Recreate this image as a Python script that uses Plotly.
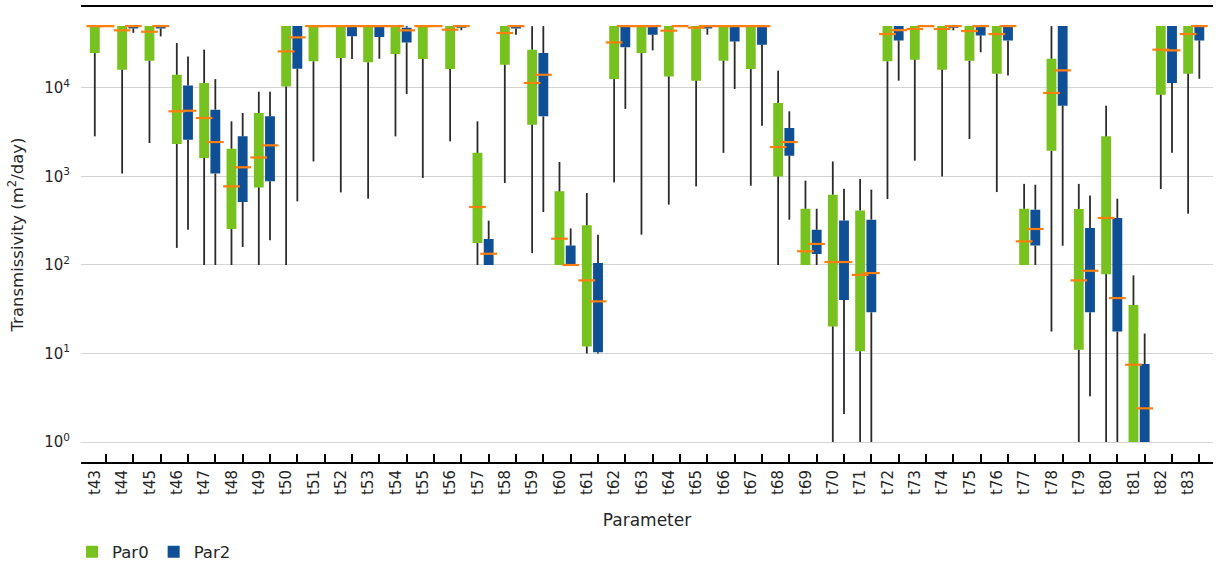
import plotly.graph_objects as go

# Parameter names along the x axis
params = [f"t{n}" for n in range(43, 84)]

# Par0 box statistics (m2/day)
par0_low = [2840, 1080, 2390, 156, 100, 100, 100, 100, 1480, 661, 561, 2840, 962, 2500, 100, 843, 136, 100, 10, 858,
            220, 481, 773, 1850, 787, 100, 100, 1, 1, 556, 1510, 1000, 2650, 667, 100, 17.7, 1, 1, 1, 722, 380]
par0_q1 = [24800, 16100, 20300, 2330, 1620, 255, 753, 10400, 20000, 21800, 19500, 24200, 21300, 16400, 177, 18300,
           3850, 100, 12, 12600, 24800, 13500, 12100, 20300, 16400, 1000, 100, 20.2, 10.6, 20000, 20900, 16100, 20300,
           14500, 100, 1950, 11, 78.8, 1, 8400, 14500]
par0_med = [50000, 44800, 43200, 5450, 4580, 773, 1640, 25900, 50000, 50000, 50000, 50000, 50000, 45600, 452, 41800,
            11400, 198, 67, 32700, 50000, 44400, 48000, 50000, 50000, 2150, 143, 108, 77.3, 40700, 46400, 46400, 44000,
            40700, 185, 8790, 67, 340, 7.47, 27100, 40700]
par0_q3 = [50000, 50000, 50000, 14100, 11400, 2060, 5220, 50000, 50000, 50000, 50000, 50000, 50000, 50000, 1850, 50000,
           27100, 679, 281, 50000, 50000, 50000, 50000, 50000, 50000, 6780, 432, 622, 414, 50000, 50000, 50000, 50000,
           50000, 432, 21400, 430, 2840, 35.2, 50000, 50000]
par0_high = [50000, 50000, 50000, 32200, 27100, 4200, 9080, 50000, 50000, 50000, 50000, 50000, 50000, 50000, 4200, 50000,
             50000, 1460, 650, 50000, 50000, 50000, 50000, 50000, 50000, 15700, 897, 1480, 937, 50000, 50000, 50000, 50000,
             50000, 825, 50000, 825, 6310, 76.2, 50000, 50000]

# Par2 box statistics (m2/day)
par2_low = [50000, 42000, 38300, 250, 100, 160, 190, 524, 50000, 21300, 21400, 8550, 50000, 45000, 100, 40000, 397,
            100, 10, 5800, 26600, 50000, 40000, 9750, 3750, 325, 100, 2.07, 1, 12100, 50000, 44800, 25300, 13800, 100,
            165, 3.29, 1, 1, 1850, 12700]
par2_q1 = [50000, 47000, 47000, 2600, 1080, 515, 881, 16500, 50000, 38300, 37700, 32700, 50000, 48000, 100, 47000,
           4780, 100, 10.3, 28800, 40000, 50000, 47000, 33600, 30800, 1720, 133, 40.3, 29.2, 34500, 50000, 48000, 39300,
           34500, 166, 6310, 29.2, 17.7, 1, 11400, 34500]
par2_med = [50000, 50000, 50000, 5530, 2450, 1270, 2250, 37300, 50000, 50000, 50000, 44800, 50000, 50000, 134, 50000,
            14100, 100, 38.8, 50000, 50000, 50000, 50000, 50000, 50000, 2450, 173, 108, 81, 45000, 50000, 50000, 50000,
            50000, 255, 15800, 86, 42.3, 2.4, 26600, 50000]
par2_q3 = [50000, 50000, 50000, 10700, 5690, 2840, 4780, 50000, 50000, 50000, 50000, 48000, 50000, 50000, 197, 50000,
           24800, 166, 105, 50000, 50000, 50000, 50000, 50000, 50000, 3530, 250, 319, 325, 50000, 50000, 50000, 50000,
           50000, 422, 50000, 262, 340, 7.6, 50000, 50000]
par2_high = [50000, 50000, 50000, 22700, 12600, 5220, 9080, 50000, 50000, 50000, 50000, 50000, 50000, 50000, 317, 50000,
             50000, 259, 220, 50000, 50000, 50000, 50000, 50000, 50000, 5450, 432, 727, 710, 50000, 50000, 50000, 50000,
             50000, 807, 50000, 611, 561, 16.8, 50000, 50000]

GREEN = "#77c21f"
BLUE = "#0e4f95"
ORANGE = "#ff7f0e"
WHISKER = "#2a2a2a"
FONT = "DejaVu Sans"
TEXT = "#262626"

idx = list(range(len(params)))
offsets = {"Par0": -0.41, "Par2": 0.0}
box_w = 0.36

series = [
    ("Par0", GREEN, par0_low, par0_q1, par0_med, par0_q3, par0_high),
    ("Par2", BLUE, par2_low, par2_q1, par2_med, par2_q3, par2_high),
]

fig = go.Figure()

for name, color, low, q1, med, q3, high in series:
    pos = [i + offsets[name] for i in idx]
    # filled inter-quartile boxes
    fig.add_trace(go.Box(
        name=name, x=pos, q1=q1, median=med, q3=q3,
        lowerfence=q1, upperfence=q3, width=box_w,
        fillcolor=color, line=dict(color=color, width=0),
        boxpoints=False, hoverinfo="skip", showlegend=True,
    ))

for name, color, low, q1, med, q3, high in series:
    pos = [i + offsets[name] for i in idx]
    # whiskers: lower fence to Q1 and Q3 to upper fence
    wx, wy = [], []
    for p, lo, a, b, hi in zip(pos, low, q1, q3, high):
        wx += [p, p, None, p, p, None]
        wy += [lo, a, None, b, hi, None]
    fig.add_trace(go.Scatter(
        x=wx, y=wy, mode="lines", line=dict(color=WHISKER, width=1.8),
        showlegend=False, hoverinfo="skip",
    ))

for name, color, low, q1, med, q3, high in series:
    pos = [i + offsets[name] for i in idx]
    # median markers
    fig.add_trace(go.Scatter(
        x=pos, y=med, mode="markers",
        marker=dict(symbol="line-ew", size=12, line=dict(color=ORANGE, width=2.2)),
        showlegend=False, hoverinfo="skip",
    ))

decades = [1, 10, 100, 1000, 10000]
decade_text = [f"10<sup>{k}</sup>" for k in range(5)]

fig.update_layout(
    width=1219, height=566, autosize=False,
    margin=dict(l=81, r=6, t=7, b=104),
    paper_bgcolor="white", plot_bgcolor="white",
    font=dict(family=FONT, size=15, color=TEXT),
    boxmode="overlay",
    legend=dict(
        orientation="h", xref="container", yref="container",
        x=0.0591, xanchor="left", y=0.0247, yanchor="middle",
        font=dict(family=FONT, size=16.5, color=TEXT), bgcolor="rgba(0,0,0,0)",
        itemclick=False,
    ),
    xaxis=dict(
        range=[-0.915, 40.5], tickmode="array", tickvals=idx, ticktext=params,
        tickangle=-90, ticks="inside", ticklen=8, tickwidth=1.5, tickcolor="black",
        ticklabelshift=-11, automargin=False,
        showline=True, linecolor="black", linewidth=2, mirror=True,
        showgrid=False, zeroline=False,
        tickfont=dict(family=FONT, size=15, color=TEXT),
        title=dict(text="Parameter", font=dict(family=FONT, size=17, color=TEXT), standoff=20),
    ),
    yaxis=dict(
        type="log", range=[-0.226, 4.915], automargin=False,
        tickmode="array", tickvals=decades, ticktext=decade_text,
        ticks="", showline=False, zeroline=False,
        showgrid=True, gridcolor="#d4d4d4", gridwidth=1,
        ticklabelstandoff=10,
        tickfont=dict(family=FONT, size=15, color=TEXT),
        title=dict(text="Transmissivity (m<sup>2</sup>/day)", font=dict(family=FONT, size=16.5, color=TEXT),
                   standoff=16),
    ),
)

fig.write_html("out.html")
